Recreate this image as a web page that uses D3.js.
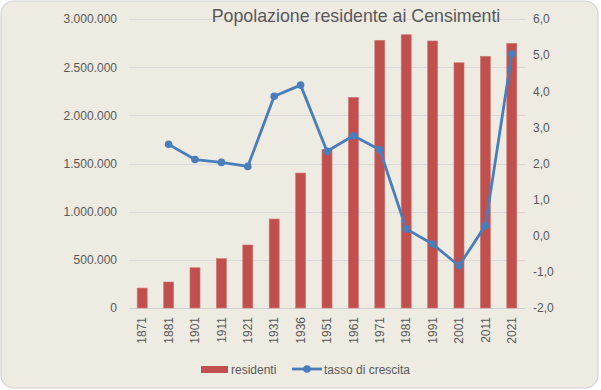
<!DOCTYPE html>
<html><head><meta charset="utf-8">
<script src="https://cdn.jsdelivr.net/npm/d3@7"></script>
<style>html,body{margin:0;padding:0;background:#fff;}svg{display:block;}</style>
</head><body>
<svg id="chart" width="601" height="390"></svg>
<script>
const years = ["1871","1881","1901","1911","1921","1931","1936","1951","1961","1971","1981","1991","2001","2011","2021"];
const residenti = [207000,270000,418000,512000,654000,924000,1401000,1647000,2187000,2779000,2837000,2772000,2546000,2613000,2748000];
const tasso = [null,2.53,2.11,2.03,1.92,3.86,4.17,2.34,2.77,2.38,0.19,-0.23,-0.83,0.28,5.03];
const leftTicks = [0,500000,1000000,1500000,2000000,2500000,3000000];
const rightTicks = [-2,-1,0,1,2,3,4,5,6];
const title = "Popolazione residente ai Censimenti";

const svg = d3.select("#chart");
const font = "'Liberation Sans', Arial, sans-serif";
svg.append("rect").attr("x",1).attr("y",1).attr("width",597).attr("height",387)
  .attr("rx",13).attr("fill","#EEEBE2").attr("stroke","#D4D4D4").attr("stroke-width",1.2);

const L=129, R=525, T=19, B=308;
const x = d3.scaleBand().domain(years).range([L,R]).paddingInner(0.62).paddingOuter(0.31);
const yL = d3.scaleLinear().domain([0,3000000]).range([B,T]);
const yR = d3.scaleLinear().domain([-2,6]).range([B,T]);

const fmt = d3.formatLocale({decimal:",",thousands:".",grouping:[3],currency:["",""],minus:"-"});
const fL = fmt.format(",.0f");
const fR = fmt.format(".1f");

// gridlines
svg.append("g").selectAll("line").data(leftTicks).join("line")
  .attr("x1",L).attr("x2",R).attr("y1",d=>Math.round(yL(d))+0.5).attr("y2",d=>Math.round(yL(d))+0.5)
  .attr("stroke",d=>d===0?"#D0D0D0":"#DADADA").attr("stroke-width",1);

// left axis
const axL = svg.append("g").attr("transform",`translate(${L},0)`)
  .call(d3.axisLeft(yL).tickValues(leftTicks).tickFormat(fL).tickSize(0).tickPadding(12));
axL.select(".domain").remove();
axL.selectAll("text").attr("font-family",font).attr("font-size",12).attr("fill","#595959");

// right axis
const axR = svg.append("g").attr("transform",`translate(${R},0)`)
  .call(d3.axisRight(yR).tickValues(rightTicks).tickFormat(fR).tickSize(0).tickPadding(8));
axR.select(".domain").remove();
axR.selectAll("text").attr("font-family",font).attr("font-size",12).attr("fill","#595959");

// bars
svg.append("g").selectAll("rect").data(years).join("rect")
  .attr("x",(d)=>x(d)).attr("width",x.bandwidth())
  .attr("y",(d,i)=>yL(residenti[i])).attr("height",(d,i)=>B-yL(residenti[i]))
  .attr("fill","#C0504D").attr("stroke","#D27A77").attr("stroke-width",0.6);

// x axis labels
const axX = svg.append("g").attr("transform",`translate(0,${B})`)
  .call(d3.axisBottom(x).tickSize(0));
axX.select(".domain").remove();
axX.selectAll("text").attr("font-family",font).attr("font-size",12).attr("fill","#595959")
  .attr("transform","rotate(-90)").attr("text-anchor","end").attr("dy","0.35em").attr("y",0)
  .attr("x",-9);

// line
const pts = years.map((d,i)=>({x:x(d)+x.bandwidth()/2, v:tasso[i]})).filter(p=>p.v!==null);
svg.append("path").datum(pts)
  .attr("d",d3.line().x(p=>p.x).y(p=>yR(p.v)))
  .attr("fill","none").attr("stroke","#4A7EBB").attr("stroke-width",2.8).attr("stroke-linejoin","round");
svg.append("g").selectAll("circle").data(pts).join("circle")
  .attr("cx",p=>p.x).attr("cy",p=>yR(p.v)).attr("r",3.8).attr("fill","#4A7EBB");

// title
svg.append("text").attr("x",356).attr("y",22).attr("text-anchor","middle")
  .attr("font-family",font).attr("font-size",17.8).attr("fill","#595959").text(title);

// legend
const lg = svg.append("g");
lg.append("rect").attr("x",201).attr("y",366).attr("width",27).attr("height",7).attr("fill","#C0504D");
lg.append("text").attr("x",231).attr("y",374).attr("font-family",font).attr("font-size",12).attr("fill","#595959").text("residenti");
lg.append("line").attr("x1",292).attr("x2",322).attr("y1",369).attr("y2",369).attr("stroke","#4A7EBB").attr("stroke-width",2.8);
lg.append("circle").attr("cx",307).attr("cy",369).attr("r",3.8).attr("fill","#4A7EBB");
lg.append("text").attr("x",324).attr("y",374).attr("font-family",font).attr("font-size",12).attr("fill","#595959").text("tasso di crescita");
</script>
</body></html>
